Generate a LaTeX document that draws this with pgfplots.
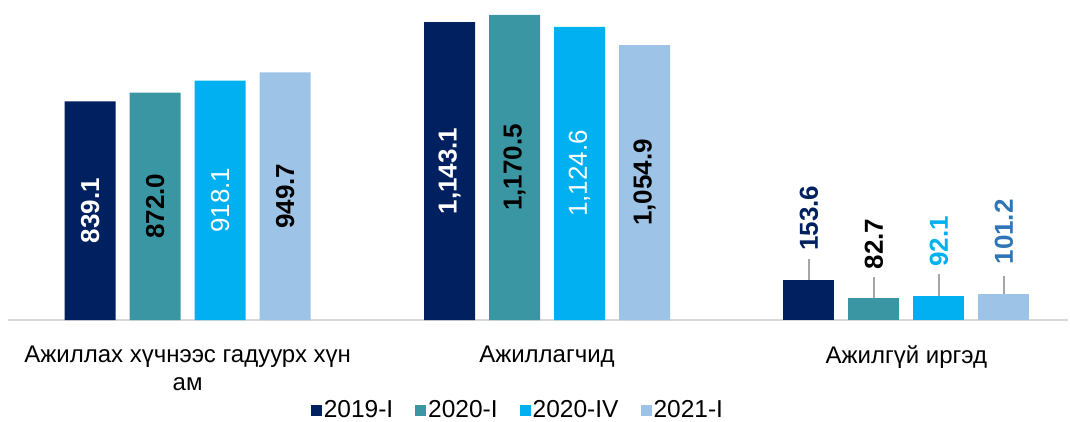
\documentclass[border=0pt]{standalone}
\usepackage{pgfplots}
\pgfplotsset{compat=1.18}
\usepackage{fontspec}
\setmainfont{Liberation Sans}
\definecolor{c1}{RGB}{0,32,96}
\definecolor{c2}{RGB}{58,150,163}
\definecolor{c3}{RGB}{0,176,240}
\definecolor{c4}{RGB}{157,195,230}
\definecolor{lab4}{RGB}{46,117,182}
\definecolor{axgray}{RGB}{217,217,217}
\definecolor{lead}{RGB}{166,166,166}
\pgfplotsset{
  inbar/.style={
    ybar, bar width=51pt, draw=none, bar shift=#1,
    nodes near coords={\pgfmathprintnumber[fixed,fixed zerofill,precision=1,1000 sep={,}]{\pgfplotspointmeta}},
    visualization depends on=y \as \rawy,
    every node near coord/.append style={xshift=#1, shift={(axis direction cs:0,-\rawy/2)}, rotate=90, anchor=center, font=\fontsize{26}{30}\selectfont\bfseries},
  },
  abovebar/.style={
    ybar, bar width=51pt, draw=none, forget plot, bar shift=#1,
    error bars/.cd, y dir=plus, y explicit, error mark=none,
      error bar style={xshift=#1, lead, line width=1.5pt},
    /pgfplots/.cd,
    nodes near coords={\pgfmathprintnumber[fixed,fixed zerofill,precision=1,1000 sep={,}]{\pgfplotspointmeta}},
    every node near coord/.append style={xshift=#1, yshift=29pt, rotate=90, anchor=west, inner sep=0pt, font=\fontsize{26}{30}\selectfont\bfseries},
  },
}
\begin{document}
\begin{tikzpicture}
\begin{axis}[
  at={(8pt,101pt)}, anchor=south west,
  scale only axis, width=1060pt, height=313pt,
  xmin=-0.5, xmax=2.45, ymin=0, ymax=1201,
  clip=false,
  axis x line*=bottom, axis y line=none,
  x axis line style={axgray, line width=1.5pt},
  xtick={0,1,2}, major tick length=0pt,
  xticklabels={{Ажиллах хүчнээс гадуурх хүн\\ам},{Ажиллагчид},{Ажилгүй иргэд}},
  xticklabel style={font=\fontsize{24}{28}\selectfont, align=center, yshift=-22pt},
  ytick=\empty,
  /pgf/number format/assume math mode=true,
  legend style={at={(0.481,-0.288)}, anchor=center, legend columns=-1, draw=none,
    font=\fontsize{24.5}{28}\selectfont,
    /tikz/every even column/.append style={column sep=20pt}},
  legend image code/.code={\fill[#1] (0pt,-6pt) rectangle (11pt,5pt);},
]
\addplot[inbar=-97.5pt, fill=c1, every node near coord/.append style={text=white}] coordinates {(0,839.1) (1,1143.1)};
\addlegendentry{2019-I}
\addplot[inbar=-32.5pt, fill=c2, every node near coord/.append style={text=black}] coordinates {(0,872.0) (1,1170.5)};
\addlegendentry{2020-I}
\addplot[inbar=32.5pt, fill=c3, every node near coord/.append style={text=white, font=\fontsize{26}{30}\selectfont\mdseries}] coordinates {(0,918.1) (1,1124.6)};
\addlegendentry{2020-IV}
\addplot[inbar=97.5pt, fill=c4, every node near coord/.append style={text=black}] coordinates {(0,949.7) (1,1054.9)};
\addlegendentry{2021-I}

\addplot[abovebar=-97.5pt, fill=c1, every node near coord/.append style={text=c1}] coordinates {(2,153.6) +- (0,80)};
\addplot[abovebar=-32.5pt, fill=c2, every node near coord/.append style={text=black}] coordinates {(2,82.7) +- (0,84)};
\addplot[abovebar=32.5pt, fill=c3, every node near coord/.append style={text=c3}] coordinates {(2,92.1) +- (0,84)};
\addplot[abovebar=97.5pt, fill=c4, every node near coord/.append style={text=lab4}] coordinates {(2,101.2) +- (0,66)};
\end{axis}
\pgfresetboundingbox
\path (0,0) rectangle (1070pt,421pt);
\end{tikzpicture}
\end{document}
